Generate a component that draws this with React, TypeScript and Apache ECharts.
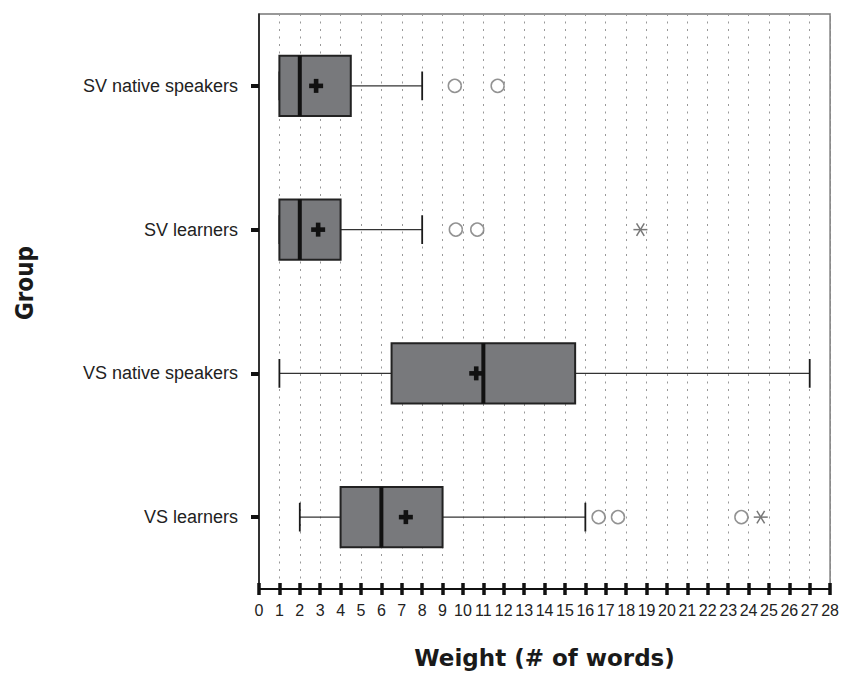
import React, { useEffect, useRef } from "react";
import * as echarts from "echarts";

const categories = ["SV native speakers", "SV learners", "VS native speakers", "VS learners"];
const whiskerLow = [1, 1, 1, 2];
const q1 = [1, 1, 6.5, 4];
const median = [2, 2, 11, 6];
const q3 = [4.5, 4, 15.5, 9];
const whiskerHigh = [8, 8, 27, 16];
const mean = [2.8, 2.9, 10.65, 7.2];
// outliers: [value, category index]
const outliers = [
  [9.6, 0], [11.7, 0],
  [9.65, 1], [10.7, 1],
  [16.65, 3], [17.6, 3], [23.65, 3],
];
const extremes = [
  [18.7, 1],
  [24.6, 3],
];
const xTicks = Array.from({ length: 29 }, (_, i) => String(i));

export default function App() {
  const ref = useRef<HTMLDivElement>(null);
  useEffect(() => {
    if (!ref.current) return;
    const chart = echarts.init(ref.current, null, { renderer: "svg" });
    const boxData = categories.map((_, i) => [i, whiskerLow[i], q1[i], median[i], q3[i], whiskerHigh[i], mean[i]]);

    const renderBox = (params: any, api: any) => {
      const cat = api.value(0);
      const band = api.size([0, 1])[1];
      const bh = band * 0.42;
      const ch = band * 0.2;
      const pLow = api.coord([api.value(1), cat]);
      const pQ1 = api.coord([api.value(2), cat]);
      const pMed = api.coord([api.value(3), cat]);
      const pQ3 = api.coord([api.value(4), cat]);
      const pHigh = api.coord([api.value(5), cat]);
      const pMean = api.coord([api.value(6), cat]);
      const cy = pQ1[1];
      const top = cy - bh / 2;
      return {
        type: "group",
        children: [
          { type: "line", shape: { x1: pLow[0], y1: cy, x2: pQ1[0], y2: cy }, style: { stroke: "#333", lineWidth: 1.2 } },
          { type: "line", shape: { x1: pQ3[0], y1: cy, x2: pHigh[0], y2: cy }, style: { stroke: "#333", lineWidth: 1.2 } },
          { type: "line", shape: { x1: pLow[0], y1: cy - ch / 2, x2: pLow[0], y2: cy + ch / 2 }, style: { stroke: "#1a1a1a", lineWidth: 1.8 } },
          { type: "line", shape: { x1: pHigh[0], y1: cy - ch / 2, x2: pHigh[0], y2: cy + ch / 2 }, style: { stroke: "#1a1a1a", lineWidth: 1.8 } },
          { type: "rect", shape: { x: pQ1[0], y: top, width: pQ3[0] - pQ1[0], height: bh }, style: { fill: "#78797c", stroke: "#222", lineWidth: 2 } },
          { type: "rect", shape: { x: pMed[0] - 2, y: top, width: 4, height: bh }, style: { fill: "#111" } },
          { type: "rect", shape: { x: pMean[0] - 7, y: pMean[1] - 2.3, width: 14, height: 4.6 }, style: { fill: "#111" } },
          { type: "rect", shape: { x: pMean[0] - 2.3, y: pMean[1] - 7, width: 4.6, height: 14 }, style: { fill: "#111" } },
        ],
      };
    };

    const renderStar = (params: any, api: any) => {
      const p = api.coord([api.value(0), api.value(1)]);
      const r = 7;
      const dx = r * 0.55;
      const dy = r * 0.9;
      const st = { stroke: "#777", lineWidth: 1.5 };
      return {
        type: "group",
        children: [
          { type: "line", shape: { x1: p[0] - r, y1: p[1], x2: p[0] + r, y2: p[1] }, style: st },
          { type: "line", shape: { x1: p[0] - dx, y1: p[1] - dy, x2: p[0] + dx, y2: p[1] + dy }, style: st },
          { type: "line", shape: { x1: p[0] + dx, y1: p[1] - dy, x2: p[0] - dx, y2: p[1] + dy }, style: st },
        ],
      };
    };

    chart.setOption({
      animation: false,
      grid: {
        left: 259,
        right: 10,
        top: 14,
        bottom: 89,
        show: true,
        borderColor: "#777",
        borderWidth: 1.5,
        backgroundColor: "transparent",
      },
      xAxis: [
        {
          type: "value",
          min: 0,
          max: 28,
          interval: 1,
          position: "bottom",
          name: "Weight (# of words)",
          nameLocation: "middle",
          nameGap: 57,
          nameTextStyle: { fontFamily: "DejaVu Sans", fontWeight: "bold", fontSize: 23, color: "#1a1a1a" },
          axisLine: { show: true, lineStyle: { color: "#111", width: 2 } },
          axisTick: { show: true, inside: false, length: 6, lineStyle: { color: "#111", width: 3.5 } },
          axisLabel: {
            show: true,
            margin: 13,
            fontFamily: "Liberation Sans",
            fontSize: 16,
            color: "#222",
            formatter: (v: number) => xTicks[v] ?? String(v),
          },
          splitLine: { show: true, lineStyle: { color: "#999", width: 1, type: [2, 5.5] } },
        },
        {
          type: "value",
          min: 0,
          max: 28,
          interval: 1,
          position: "bottom",
          axisLine: { show: false },
          axisTick: { show: true, inside: true, length: 6, lineStyle: { color: "#111", width: 3.5 } },
          axisLabel: { show: false },
          splitLine: { show: false },
        },
      ],
      yAxis: {
        type: "category",
        data: categories,
        inverse: true,
        axisLine: { show: true, lineStyle: { color: "#111", width: 1.5 } },
        axisTick: { show: true, alignWithLabel: true, length: 8, lineStyle: { color: "#111", width: 4 } },
        axisLabel: { margin: 21, fontFamily: "Liberation Sans", fontSize: 18, color: "#222" },
        splitLine: { show: false },
      },
      graphic: [
        {
          type: "text",
          x: 25,
          y: 283,
          rotation: Math.PI / 2,
          style: {
            text: "Group",
            fontFamily: "DejaVu Sans Condensed, Liberation Sans",
            fontWeight: "bold",
            fontSize: 24,
            fill: "#1a1a1a",
            align: "center",
            verticalAlign: "middle",
          },
        },
      ],
      series: [
        {
          type: "custom",
          name: "box",
          xAxisIndex: 0,
          renderItem: renderBox,
          encode: { x: [1, 2, 3, 4, 5, 6], y: 0 },
          data: boxData,
          z: 3,
        },
        {
          type: "scatter",
          name: "outliers",
          xAxisIndex: 0,
          data: outliers,
          symbol: "circle",
          symbolSize: 13,
          itemStyle: { color: "#fff", borderColor: "#777", borderWidth: 1.5 },
          z: 4,
        },
        {
          type: "custom",
          name: "extremes",
          xAxisIndex: 0,
          renderItem: renderStar,
          encode: { x: 0, y: 1 },
          data: extremes,
          z: 4,
        },
      ],
    });
    return () => chart.dispose();
  }, []);
  return (
    <div
      ref={ref}
      style={{ position: "absolute", left: 0, top: 0, width: 842, height: 678, background: "#fff" }}
    />
  );
}
